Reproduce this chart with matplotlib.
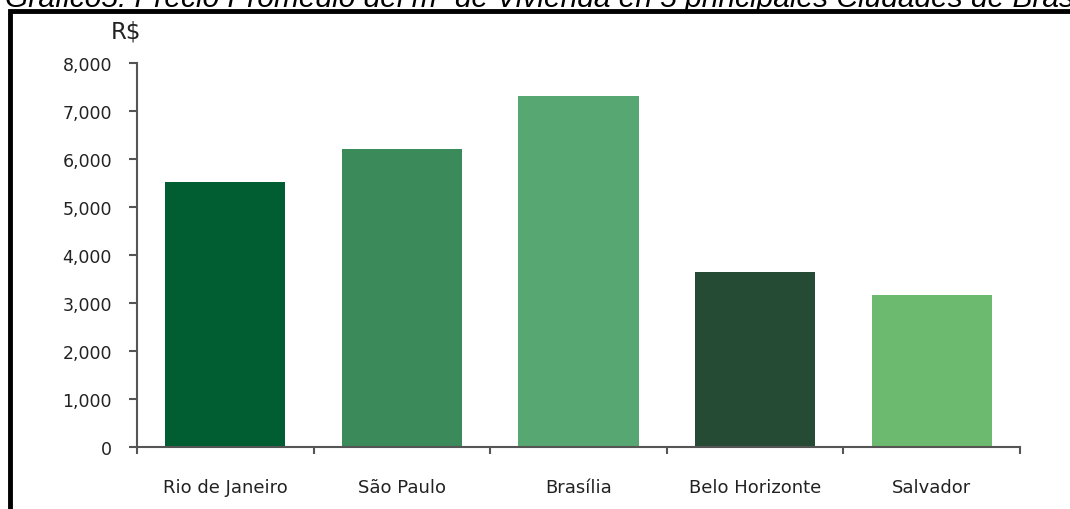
import matplotlib.pyplot as plt
import matplotlib
from matplotlib.patches import Rectangle
from matplotlib.ticker import FuncFormatter
import numpy as np

matplotlib.rcParams['font.family'] = ['DejaVu Sans']

# precio promedio del m2 (R$)
cities = ['Rio de Janeiro', 'São Paulo', 'Brasília', 'Belo Horizonte', 'Salvador']
prices = [5520, 6210, 7310, 3640, 3170]
colors = ['#005e32', '#3a8a5a', '#57a772', '#264b35', '#6cba6f']

title = 'Gráfico5: Precio Promedio del m² de Vivienda en 5 principales Ciudades de Brasil'

fig = plt.figure(figsize=(10.7, 5.1), dpi=100)
ax = fig.add_axes([137 / 1070, 1 - 448 / 510, 883 / 1070, 384 / 510])

x = np.arange(len(cities))
ax.bar(x, prices, 0.68, color=colors)

ax.set_xlim(-0.5, len(cities) - 0.5)
ax.set_ylim(0, 8000)
ax.set_yticks(np.arange(0, 8001, 1000))
ax.yaxis.set_major_formatter(FuncFormatter(lambda v, p: f'{int(v):,}'))
ax.set_xticks(x)
ax.set_xticklabels(cities)
ax.set_xticks(np.arange(-0.5, len(cities)), minor=True)

for s in ['top', 'right']:
    ax.spines[s].set_visible(False)
for s in ['left', 'bottom']:
    ax.spines[s].set_color('#555555')
    ax.spines[s].set_linewidth(1.5)

ax.tick_params(axis='y', length=6, width=1.5, color='#555555', labelsize=12.5, pad=12, labelcolor='#222222')
ax.tick_params(axis='x', which='major', length=0, labelsize=13, pad=22, labelcolor='#222222')
ax.tick_params(axis='x', which='minor', length=5, width=1.5, color='#555555')

fig.text(126 / 1070, 1 - 32 / 510, 'R$', fontsize=16.5, ha='center', va='center', color='#222222')

# marco negro y título recortado arriba
fig.patches.append(Rectangle((10 / 1070, -0.1), 1.2, 1 - 12 / 510 + 0.1, transform=fig.transFigure,
                             fill=False, edgecolor='black', linewidth=3.5))
fig.text(5 / 1070, 1 - 7 / 510, title, fontsize=21.5, style='italic', family='Liberation Sans',
         ha='left', va='baseline', color='black')

fig.savefig('out.png', dpi=100)
